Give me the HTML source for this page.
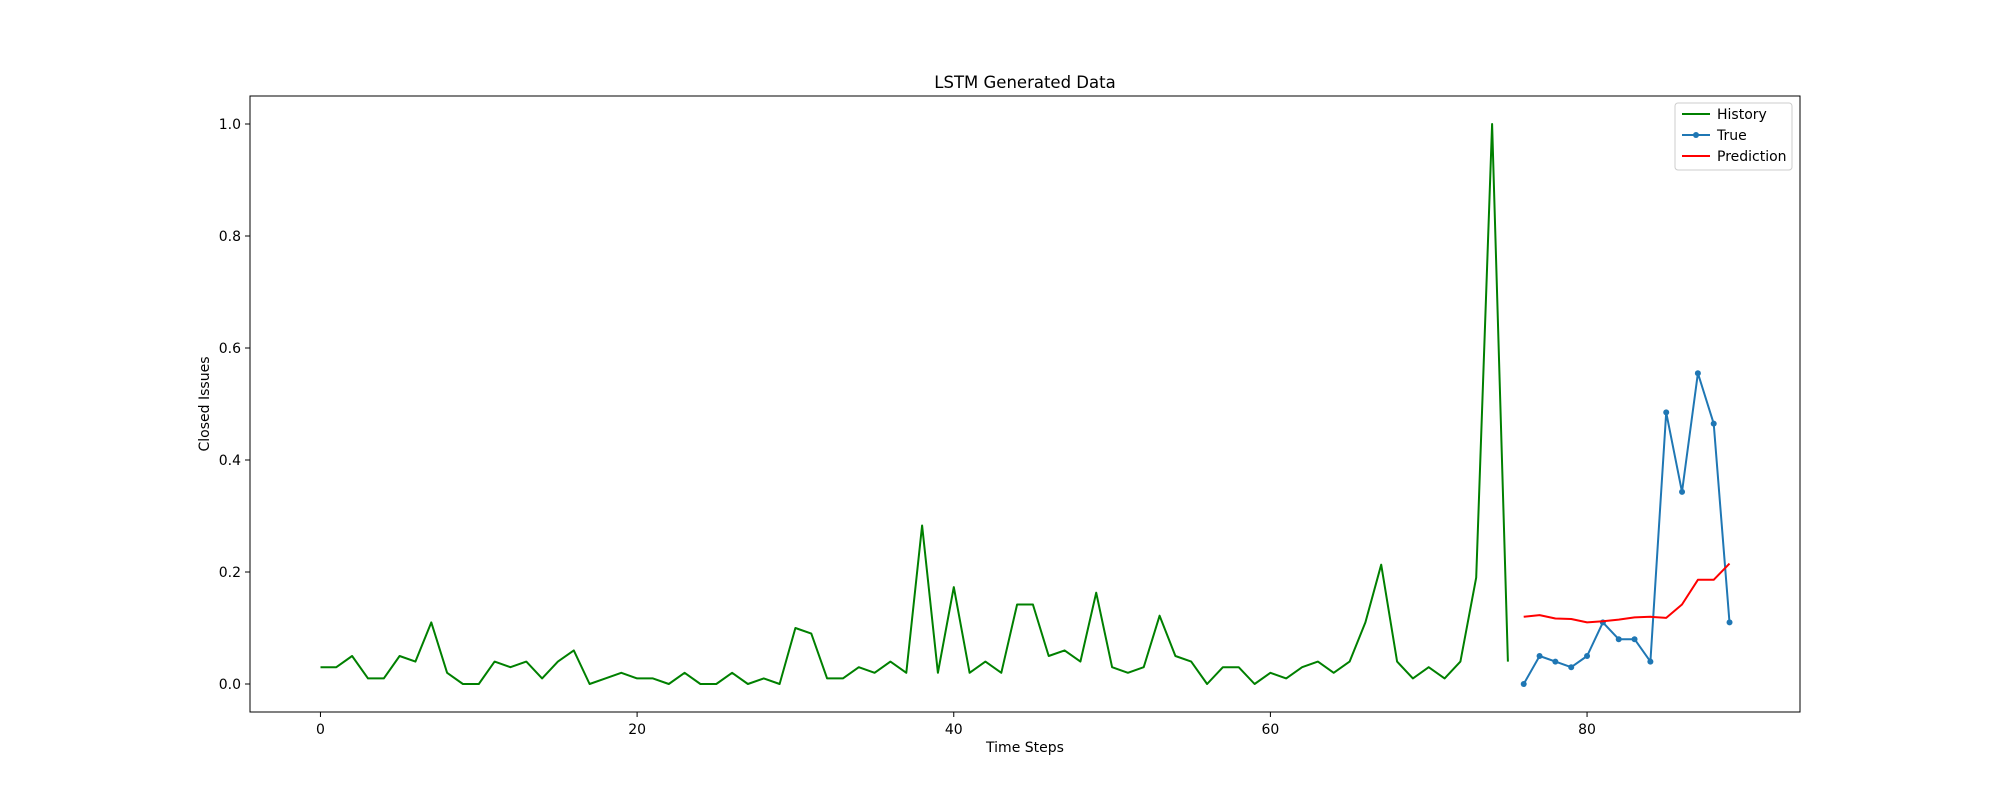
<!DOCTYPE html>
<html><head><meta charset="utf-8"><style>
html,body{margin:0;padding:0;background:#fff;}
svg{display:block;font-family:"DejaVu Sans","Liberation Sans",sans-serif;}
</style></head><body>
<svg id="chart" width="2000" height="800" viewBox="0 0 2000 800"></svg>
<script>
const historyValues=[0.03,0.03,0.05,0.01,0.01,0.05,0.04,0.11,0.02,0,0,0.04,0.03,0.04,0.01,0.04,0.06,0,0.01,0.02,0.01,0.01,0,0.02,0,0,0.02,0,0.01,0,0.1,0.09,0.01,0.01,0.03,0.02,0.04,0.02,0.283,0.02,0.173,0.02,0.04,0.02,0.142,0.142,0.05,0.06,0.04,0.163,0.03,0.02,0.03,0.122,0.05,0.04,0,0.03,0.03,0,0.02,0.01,0.03,0.04,0.02,0.04,0.11,0.213,0.04,0.01,0.03,0.01,0.04,0.19,1.0,0.04];
const trueValues=[0,0.05,0.04,0.03,0.05,0.11,0.08,0.08,0.04,0.485,0.343,0.555,0.465,0.11];
const predValues=[0.12,0.123,0.117,0.116,0.11,0.112,0.115,0.119,0.12,0.118,0.142,0.186,0.186,0.215];
const forecastStart=76;
const xTicks=[0,20,40,60,80];
const yTicks=[0.0,0.2,0.4,0.6,0.8,1.0];

const NS="http://www.w3.org/2000/svg";
const svg=document.getElementById('chart');
const L=250,R=1800,T=96,B=712;
const xMin=-4.45,xMax=93.45,yMin=-0.05,yMax=1.05;
const xs=v=>L+(v-xMin)/(xMax-xMin)*(R-L);
const ys=v=>B-(v-yMin)/(yMax-yMin)*(B-T);
function mk(tag,attrs,parent){const e=document.createElementNS(NS,tag);for(const k in attrs)e.setAttribute(k,attrs[k]);(parent||svg).appendChild(e);return e;}

const ax=mk('rect',{x:L,y:T,width:R-L,height:B-T,fill:'none',stroke:'#000','stroke-width':1});



xTicks.forEach(t=>{
 const l=mk('line',{x1:xs(t),x2:xs(t),y1:B,y2:B+5,stroke:'#000'});
 
 
 const tx=mk('text',{x:xs(t),y:B+22,'text-anchor':'middle','font-size':14});
 tx.textContent=t;
 
 
});
yTicks.forEach(t=>{
 const l=mk('line',{x1:L-5,x2:L,y1:ys(t),y2:ys(t),stroke:'#000'});
 
 
 const tx=mk('text',{x:L-9,y:ys(t)+5,'text-anchor':'end','font-size':14});
 tx.textContent=t.toFixed(1);
 
 
});

function line(vals,start,color,name){
 const p=vals.map((v,i)=>xs(start+i).toFixed(1)+','+ys(v).toFixed(1)).join(' ');
 const pl=mk('polyline',{points:p,fill:'none',stroke:color,'stroke-width':2,'stroke-linejoin':'round'});
 
 
}
line(historyValues,0,'#008000','history-line');
line(trueValues,forecastStart,'#1f77b4','true-line');
trueValues.forEach((v,i)=>{
 const c=mk('circle',{cx:xs(forecastStart+i),cy:ys(v),r:3,fill:'#1f77b4'});
 
 
});
line(predValues,forecastStart,'#ff0000','prediction-line');

const title=mk('text',{x:(L+R)/2,y:88,'text-anchor':'middle','font-size':16.5});
title.textContent='LSTM Generated Data';


const xt=mk('text',{x:(L+R)/2,y:752,'text-anchor':'middle','font-size':14});
xt.textContent='Time Steps';


const yt=mk('text',{x:0,y:0,'text-anchor':'middle','font-size':14,transform:`translate(209,${(T+B)/2}) rotate(-90)`});
yt.textContent='Closed Issues';



const lg=mk('g',{});


mk('rect',{x:1675,y:103,width:117,height:67,rx:3,fill:'#fff',stroke:'#ccc'},lg);
const entries=[['History','#008000',false],['True','#1f77b4',true],['Prediction','#ff0000',false]];
entries.forEach((e,i)=>{
 const y=114+i*21;
 const g=mk('g',{},lg);
 
 
 mk('line',{x1:1682,x2:1710,y1:y,y2:y,stroke:e[1],'stroke-width':2},g);
 if(e[2])mk('circle',{cx:1696,cy:y,r:3,fill:e[1]},g);
 const t=mk('text',{x:1717,y:y+5,'font-size':14},g);
 t.textContent=e[0];
});
</script>
</body></html>
